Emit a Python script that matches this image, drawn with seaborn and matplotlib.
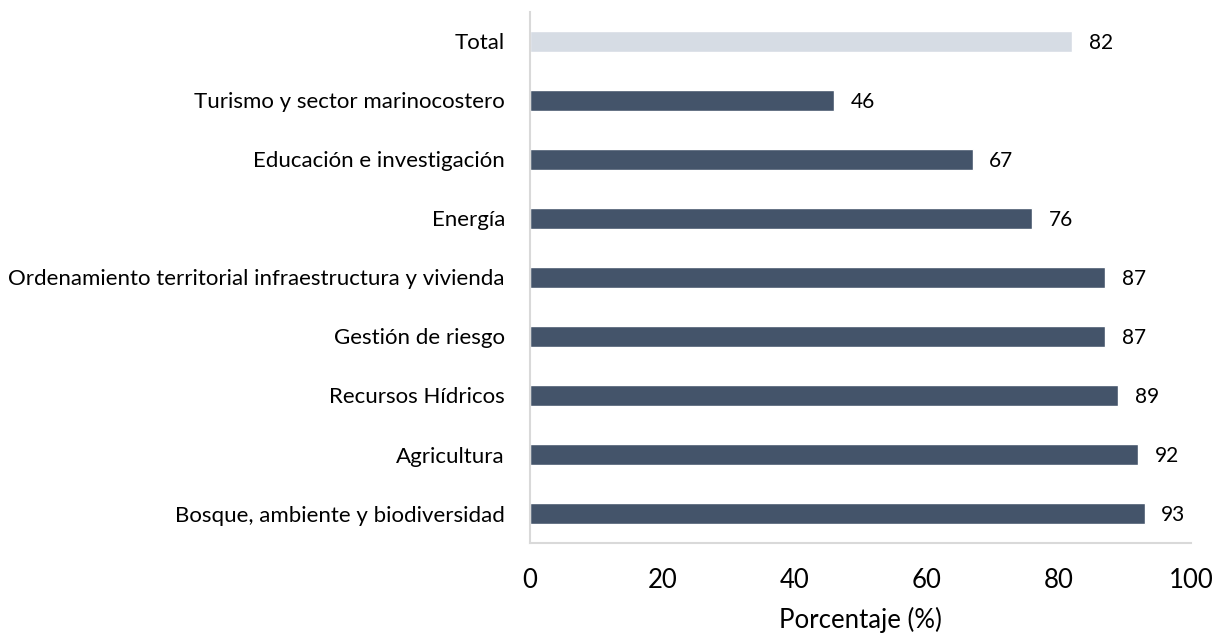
"""Porcentaje por sector: barras horizontales con seaborn."""

import matplotlib.pyplot as plt
import pandas as pd
import seaborn as sns

CATEGORIES = [
    "Total",
    "Turismo y sector marinocostero",
    "Educación e investigación",
    "Energía",
    "Ordenamiento territorial infraestructura y vivienda",
    "Gestión de riesgo",
    "Recursos Hídricos",
    "Agricultura",
    "Bosque, ambiente y biodiversidad",
]
VALUES = [82, 46, 67, 76, 87, 87, 89, 92, 93]
X_TICKS = [0, 20, 40, 60, 80, 100]

DARK = "#44546A"
LIGHT = "#D6DCE4"
SPINE = "#D9D9D9"


def main() -> None:
    sns.set_style("white")
    plt.rcParams["font.family"] = ["Lato", "DejaVu Sans"]
    plt.rcParams["text.color"] = "black"
    plt.rcParams["axes.labelcolor"] = "black"
    plt.rcParams["xtick.color"] = "black"
    plt.rcParams["ytick.color"] = "black"

    df = pd.DataFrame({"sector": CATEGORIES, "pct": VALUES})
    palette = {c: (LIGHT if c == "Total" else DARK) for c in CATEGORIES}

    fig = plt.figure(figsize=(12.22, 6.38), dpi=100)
    ax = fig.add_axes([0.4337, 0.1489, 0.5409, 0.8323])
    sns.barplot(
        data=df, x="pct", y="sector", hue="sector", palette=palette,
        order=CATEGORIES, width=0.35, legend=False, ax=ax, saturation=1,
    )

    for i, v in enumerate(VALUES):
        ax.text(v + 2.5, i + 0.03, f"{v}", va="center", ha="left", fontsize=15)

    ax.set_xlim(0, 100)
    ax.set_xticks(X_TICKS)
    ax.tick_params(axis="x", length=0, pad=18, labelsize=18.5)
    ax.tick_params(axis="y", length=0, pad=18, labelsize=16)
    ax.set_ylabel("")
    ax.set_xlabel("Porcentaje (%)", fontsize=18.5, labelpad=10)

    for side in ("top", "right"):
        ax.spines[side].set_visible(False)
    for side in ("left", "bottom"):
        ax.spines[side].set_color(SPINE)
        ax.spines[side].set_linewidth(1.5)

    fig.savefig("out.png", dpi=100)
    plt.close(fig)


if __name__ == "__main__":
    main()
